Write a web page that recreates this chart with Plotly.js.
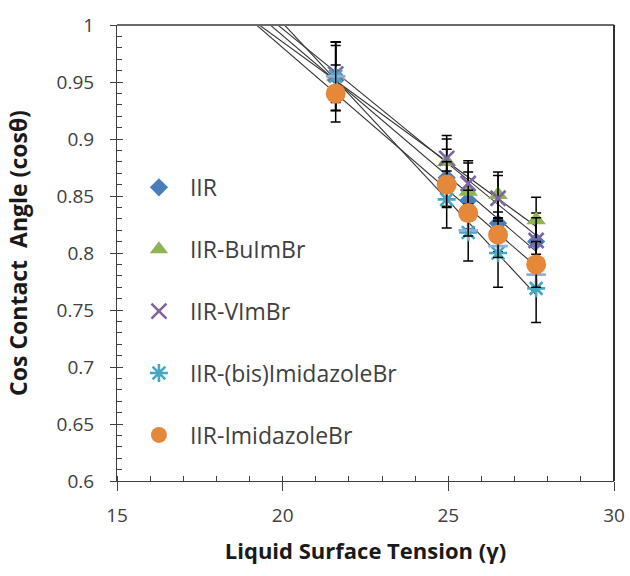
<!DOCTYPE html>
<html>
<head>
<meta charset="utf-8">
<script src="https://cdn.plot.ly/plotly-3.0.1.min.js"></script>
<style>html,body{margin:0;padding:0;background:#fff;}#chart{width:630px;height:576px;}</style>
</head>
<body>
<div id="chart"></div>
<script>
// ---- data ----
var surfaceTension = [21.6, 24.95, 25.6, 26.5, 27.65];

var seriesNames = ["IIR", "IIR-BuImBr", "IIR-VImBr", "IIR-(bis)ImidazoleBr", "IIR-ImidazoleBr"];

var cosIIR        = [0.955, 0.866, 0.846, 0.826, 0.810];
var cosBuImBr     = [0.955, 0.880, 0.854, 0.851, 0.829];
var cosVImBr      = [0.957, 0.883, 0.861, 0.848, 0.811];
var cosBis        = [0.955, 0.847, 0.818, 0.800, 0.769];
var cosImidazole  = [0.940, 0.860, 0.835, 0.816, 0.790];
var cosExtra      = [0.955, 0.860, 0.820, 0.806, 0.781];

var errIIR        = [0.030, 0.025, 0.025, 0.025, 0.025];
var errBuImBr     = [0.030, 0.020, 0.025, 0.020, 0.020];
var errVImBr      = [0.025, 0.020, 0.020, 0.020, 0.020];
var errBis        = [0.030, 0.025, 0.025, 0.030, 0.030];
var errImidazole  = [0.025, 0.020, 0.020, 0.020, 0.020];

var xTickVals = [15, 20, 25, 30];
var yTickVals = [0.6, 0.65, 0.7, 0.75, 0.8, 0.85, 0.9, 0.95, 1];

// ---- styles ----
var styles = [
  {symbol: "diamond", color: "#4A7EBB", size: 14, line: {width: 0}},
  {symbol: "triangle-up", color: "#8DB551", size: 17, line: {width: 0}},
  {symbol: "x-thin-open", color: "#8064A2", size: 15, line: {width: 2.6, color: "#8064A2"}},
  {symbol: "asterisk-open", color: "#45A8C2", size: 15, line: {width: 2.6, color: "#45A8C2"}},
  {symbol: "circle", color: "#E6883A", size: 20, line: {width: 0}}
];
var ys = [cosIIR, cosBuImBr, cosVImBr, cosBis, cosImidazole];
var errs = [errIIR, errBuImBr, errVImBr, errBis, errImidazole];

function linFit(x, y) {
  var n = x.length, mx = 0, my = 0;
  for (var i = 0; i < n; i++) { mx += x[i]; my += y[i]; }
  mx /= n; my /= n;
  var sxy = 0, sxx = 0;
  for (var j = 0; j < n; j++) { sxy += (x[j]-mx)*(y[j]-my); sxx += (x[j]-mx)*(x[j]-mx); }
  var b = sxy / sxx;
  return {a: my - b*mx, b: b};
}

var traces = [];
// trendlines (least squares fits of each series, forecast backward)
for (var s = 0; s < ys.length; s++) {
  var f = linFit(surfaceTension, ys[s]);
  var x0 = 15, x1 = surfaceTension[surfaceTension.length-1];
  traces.push({
    x: [x0, x1], y: [f.a + f.b*x0, f.a + f.b*x1],
    mode: "lines", type: "scatter", showlegend: false, hoverinfo: "skip",
    line: {color: "#333333", width: 1.1}
  });
}
// series with error bars
for (var k = 0; k < ys.length; k++) {
  traces.push({
    x: surfaceTension, y: ys[k], name: seriesNames[k],
    type: "scatter", mode: "markers", legendgroup: "g"+k,
    marker: {symbol: styles[k].symbol, color: styles[k].color, size: styles[k].size, line: styles[k].line},
    error_y: {type: "data", array: errs[k], visible: true, color: "#000000", thickness: 1.5, width: 5},
    cliponaxis: false
  });
  if (k === 3) {
    traces.push({
      x: surfaceTension, y: cosExtra, name: "extra", showlegend: false,
      type: "scatter", mode: "markers",
      marker: {symbol: "cross-thin-open", color: "#8FB0DE", size: 14, line: {width: 2.6, color: "#8FB0DE"}}
    });
  }
}

var axisColor = "#404040";
var layout = {
  width: 630, height: 576,
  margin: {l: 117, r: 16, t: 25, b: 95},
  paper_bgcolor: "#ffffff", plot_bgcolor: "#ffffff",
  font: {family: "Open Sans, sans-serif", color: "#404040"},
  showlegend: true,
  legend: {
    x: 0.022, y: 0.691, xanchor: "left", yanchor: "top",
    bgcolor: "rgba(0,0,0,0)", tracegroupgap: 29, itemwidth: 52,
    font: {size: 23, color: "#404040", family: "Open Sans, sans-serif"}
  },
  xaxis: {
    range: [15, 30], tickvals: xTickVals, ticktext: xTickVals.map(String),
    ticks: "outside", ticklen: 9, tickwidth: 1, tickcolor: axisColor,
    showline: true, linecolor: axisColor, linewidth: 1,
    showgrid: false, zeroline: false, ticklabelstandoff: 8,
    minor: {dtick: 1, tick0: 15, ticks: "inside", ticklen: 5, tickcolor: axisColor, showgrid: false},
    tickfont: {size: 19, color: "#404040"},
    title: {text: "Liquid Surface Tension (γ)", font: {size: 22, color: "#1a1a1a", family: "Open Sans, sans-serif", weight: "bold"}, standoff: 16}
  },
  yaxis: {
    range: [0.6, 1], tickvals: yTickVals, ticktext: yTickVals.map(String),
    ticks: "outside", ticklen: 6, tickwidth: 1, tickcolor: axisColor,
    showline: true, linecolor: axisColor, linewidth: 1,
    showgrid: false, zeroline: false, ticklabelstandoff: 12,
    minor: {dtick: 0.01, tick0: 0.6, ticks: "inside", ticklen: 5, tickcolor: axisColor, showgrid: false},
    tickfont: {size: 19, color: "#404040"},
    title: {text: "Cos Contact\u00a0 Angle (cosθ)", font: {size: 23, color: "#1a1a1a", family: "Open Sans, sans-serif", weight: "bold"}, standoff: 22}
  },
  yaxis2: {
    range: [0.6, 1], overlaying: "y", side: "left", tickvals: yTickVals,
    ticks: "inside", ticklen: 6, tickcolor: axisColor, showticklabels: false,
    showline: false, showgrid: false, zeroline: false
  },
  shapes: [
    {type: "line", xref: "paper", yref: "paper", x0: 0, x1: 1, y0: 1, y1: 1, line: {color: "#6a6a6a", width: 2}},
    {type: "line", xref: "paper", yref: "paper", x0: 1, x1: 1, y0: 0, y1: 1, line: {color: "#303030", width: 2}}
  ]
};
// dummy trace to show yaxis2
traces.push({x: [15], y: [0.6], yaxis: "y2", mode: "markers", marker: {opacity: 0}, showlegend: false, hoverinfo: "skip"});

Plotly.newPlot("chart", traces, layout, {displayModeBar: false, staticPlot: true});
</script>
</body>
</html>
